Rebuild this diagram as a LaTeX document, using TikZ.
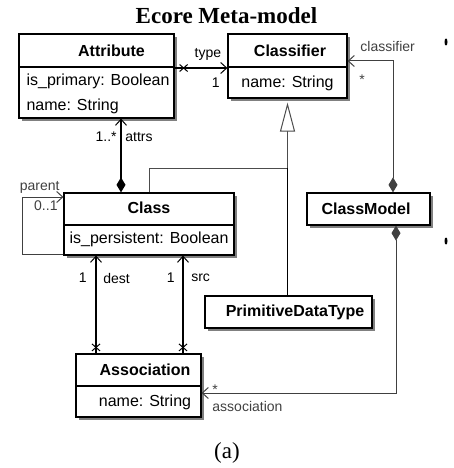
\documentclass[tikz,border=0pt]{standalone}
\usepackage{fontspec}
\setmainfont{Liberation Sans}
\newfontfamily\capfont{Liberation Serif}
\usepackage{tikz}
\usetikzlibrary{arrows.meta,shadows}
\tikzstyle{umlbox}=[rectangle,draw=black,line width=1.2pt,fill=white,inner sep=0pt,
  drop shadow={shadow xshift=3pt,shadow yshift=-3pt,fill=black!50,opacity=1}]
\tikzstyle{divider}=[black,line width=2pt]
\tikzstyle{cname}=[inner sep=0pt,font=\bfseries\fontsize{16}{19}\selectfont]
\tikzstyle{cattr}=[inner sep=0pt,font=\fontsize{16}{19}\selectfont]
\tikzstyle{role}=[font=\fontsize{14}{16}\selectfont]
\tikzstyle{navline}=[black,line width=2pt]
\tikzstyle{weakline}=[black!75,line width=1pt]
\tikzstyle{comp}=[{Diamond[length=15pt,width=9pt]}->]
\tikzstyle{genline}=[black!70,line width=1pt,
  -{Triangle[open,fill=white,length=29pt,width=15pt,line width=1pt]}]
\tikzset{xmark/.pic={\draw[black,line width=1pt] (-4,-3.5) -- (4,3.5) (-4,3.5) -- (4,-3.5);}}

\begin{document}
\begin{tikzpicture}[x=1pt,y=-1pt,>={Straight Barb[length=6pt,width=11pt,line width=1pt]}]
\useasboundingbox (0,0) rectangle (453,468);

\node[font=\capfont\bfseries\fontsize{23}{26}\selectfont] (title) at (226.5,15.5) {Ecore Meta-model};

% boxes
\node[umlbox,minimum width=155pt,minimum height=84pt] (attr) at (96.5,76) {};
\node[umlbox,minimum width=119pt,minimum height=64pt] (clsf) at (287.5,66) {};
\node[umlbox,minimum width=170pt,minimum height=62pt] (class) at (149,224) {};
\node[umlbox,minimum width=123pt,minimum height=32pt] (cmodel) at (368.5,209) {};
\node[umlbox,minimum width=167pt,minimum height=32pt] (prim) at (288.5,312) {};
\node[umlbox,minimum width=125pt,minimum height=63pt] (assoc) at (138.5,385.5) {};

\draw[divider] ([yshift=-34pt]attr.north west) -- ([yshift=-34pt]attr.north east);
\draw[divider] ([yshift=-34pt]clsf.north west) -- ([yshift=-34pt]clsf.north east);
\draw[divider] ([yshift=-33pt]class.north west) -- ([yshift=-33pt]class.north east);
\draw[divider] ([yshift=-33pt]assoc.north west) -- ([yshift=-33pt]assoc.north east);

\node[cname] (attr-t) at ([xshift=15pt,yshift=-17pt]attr.north) {Attribute};
\node[cattr,anchor=west] (attr-a1) at ([xshift=8pt,yshift=-48pt]attr.north west) {is\_primary: Boolean};
\node[cattr,anchor=west] (attr-a2) at ([xshift=8pt,yshift=-73pt]attr.north west) {name: String};
\node[cname] (clsf-t) at ([xshift=2.5pt,yshift=-17pt]clsf.north) {Classifier};
\node[cattr] (clsf-a1) at ([yshift=-50pt]clsf.north) {name: String};
\node[cname] (class-t) at ([yshift=-15pt]class.north) {Class};
\node[cattr,anchor=west] (class-a1) at ([xshift=6pt,yshift=-47pt]class.north west) {is\_persistent: Boolean};
\node[cname] (cmodel-t) at ([xshift=-2.5pt]cmodel.center) {ClassModel};
\node[cname] (prim-t) at ([xshift=6.5pt]prim.center) {PrimitiveDataType};
\node[cname] (assoc-t) at ([xshift=6.5pt,yshift=-16pt]assoc.north) {Association};
\node[cattr] (assoc-a1) at ([xshift=6.5pt,yshift=-49pt]assoc.north) {name: String};

% associations
\draw[navline,->] ([yshift=8pt]attr.east) -- ([yshift=-2pt]clsf.west)
  node[role,pos=0.63,above=3pt] {type}
  node[role,pos=0.78,below=6pt] {1};
\pic at ([xshift=9pt,yshift=8pt]attr.east) {xmark};

\draw[navline,comp] ([xshift=-28pt]class.north) -- ([xshift=24.5pt]attr.south)
  node[role,pos=0.75,left] {1..*}
  node[role,pos=0.75,right] {attrs};

\draw[navline,<-] ([xshift=-53pt]class.south) -- ([xshift=-42.5pt]assoc.north)
  node[role,pos=0.23,left=5pt] {1}
  node[role,pos=0.23,right=3pt] {dest};
\draw[navline,<-] ([xshift=34pt]class.south) -- ([xshift=44.5pt]assoc.north)
  node[role,pos=0.23,left=4pt] {1}
  node[role,pos=0.23,right=4pt] {src};
\pic at ([xshift=-42.5pt,yshift=6pt]assoc.north) {xmark};
\pic at ([xshift=44.5pt,yshift=6pt]assoc.north) {xmark};

\draw[weakline,->] ([yshift=-30pt]class.west) -- ++(-41,0) |- ([yshift=27pt]class.west)
  node[role,pos=1,above left] {parent}
  node[role,pos=1,below left,xshift=-2pt] {0..1};

\draw[weakline,comp] ([xshift=24.5pt]cmodel.north) |- ([yshift=5pt]clsf.east)
  node[role,pos=1,anchor=south west,xshift=9pt,yshift=6pt] {classifier}
  node[role,pos=1,anchor=north west,xshift=8pt,yshift=-10pt] {*};
\draw[weakline,comp] ([xshift=27.5pt]cmodel.south) |- ([yshift=-7.5pt]assoc.east)
  node[role,pos=1,anchor=south west,xshift=7pt,yshift=-5pt] {*}
  node[role,pos=1,anchor=north west,xshift=7pt,yshift=-5pt] {association};

% generalization
\coordinate (gjoin) at (clsf.south |- 0,168);
\draw[genline] (class.north) |- (gjoin) -- ([yshift=-4pt]clsf.south);
\draw[black,line width=1.5pt] (prim.north -| gjoin) -- (gjoin);

\node[font=\capfont\fontsize{23}{27}\selectfont] (caption) at (227,453) {(a)};

\fill (446,42) ellipse (1.5 and 3.5);
\fill (446,241) ellipse (1.5 and 3.5);
\end{tikzpicture}
\end{document}
